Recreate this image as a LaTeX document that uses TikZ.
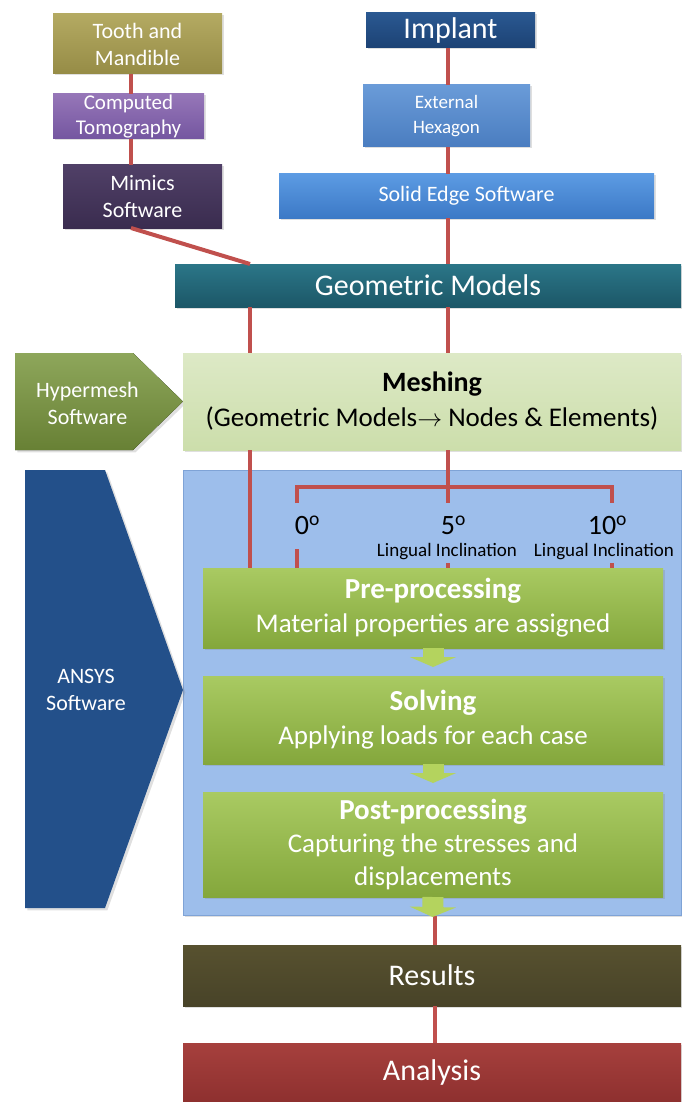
\documentclass[tikz,border=0pt]{standalone}
\usepackage{fontspec}
\setmainfont{Carlito}
\usetikzlibrary{arrows.meta,shadows}

% colours of the boxes
\definecolor{linkred}{HTML}{C0504D}
\definecolor{panelblue}{HTML}{9DBEEB}
\definecolor{paneledge}{HTML}{7FA3D6}
\definecolor{stagetop}{HTML}{A9CA62}
\definecolor{stagebot}{HTML}{84A73C}
\definecolor{chevgreen}{HTML}{B4D35E}
\definecolor{ansysblue}{HTML}{23508A}
\definecolor{hypergreen}{HTML}{7A973E}

\begin{document}
\begin{tikzpicture}[x=1pt,y=-1pt]
                % Define styles for different elements
                \tikzstyle{plain} = [rectangle, inner sep=0pt, outer sep=0pt, text=white, align=center,
                                     font=\fontsize{22}{27}\selectfont]
                \tikzstyle{box} = [plain, drop shadow={opacity=0.25, shadow xshift=1.5pt, shadow yshift=-1.5pt}]
                \tikzstyle{bar} = [box, minimum width=498pt, font=\fontsize{30}{34}\selectfont]
                \tikzstyle{stage} = [box, minimum width=460pt, top color=stagetop, bottom color=stagebot,
                                     font=\fontsize{27}{34}\selectfont]
                \tikzstyle{tag} = [inner sep=0pt, text=black, font=\fontsize{19}{22}\selectfont]
                \tikzstyle{deg} = [inner sep=0pt, text=black, font=\fontsize{28}{30}\selectfont]
                \tikzstyle{link} = [draw=linkred, line width=4pt]
                \tikzstyle{chev} = [draw=chevgreen, line width=21pt, -{Triangle[width=46pt,length=10pt]}]

                \useasboundingbox (0,0) rectangle (681,1102);

                % Line positions
                \coordinate (lcol) at (131,0);
                \coordinate (gl) at (250,0);
                \coordinate (cx) at (448,0);
                \coordinate (mid) at (435,0);

                % Tooth side
                \node[box, minimum width=169pt, minimum height=60pt, top color={rgb,255:red,180;green,170;blue,98}, bottom color={rgb,255:red,150;green,140;blue,70}] (tooth) at (137.5,44) {Tooth and\\Mandible};
                \node[box, minimum width=151pt, minimum height=45pt, top color={rgb,255:red,150;green,118;blue,184}, bottom color={rgb,255:red,116;green,86;blue,160}, font=\fontsize{21}{25}\selectfont] (ct) at (128.5,116.5) {Computed\\Tomography};
                \node[box, minimum width=159pt, minimum height=63pt, top color={rgb,255:red,80;green,64;blue,103}, bottom color={rgb,255:red,58;green,44;blue,79}] (mimics) at (142.5,196.5) {Mimics\\Software};

                % Implant side
                \node[box, minimum width=169pt, minimum height=35pt, top color={rgb,255:red,42;green,88;blue,145}, bottom color={rgb,255:red,28;green,66;blue,116}, font=\fontsize{30}{34}\selectfont] (implant) at (450.5,30.5) {Implant};
                \node[box, minimum width=167pt, minimum height=62pt, top color={rgb,255:red,106;green,155;blue,216}, bottom color={rgb,255:red,74;green,125;blue,192}, font=\fontsize{19}{25}\selectfont] (hex) at (446.5,116) {External\\Hexagon};
                \node[box, minimum width=375pt, minimum height=44pt, top color={rgb,255:red,92;green,155;blue,227}, bottom color={rgb,255:red,60;green,121;blue,198}] (solid) at (466.5,196) {Solid Edge Software};

                % Geometric models and meshing
                \node[box, minimum width=506pt, minimum height=43pt, top color={rgb,255:red,43;green,118;blue,136}, bottom color={rgb,255:red,28;green,87;blue,103}, font=\fontsize{30}{34}\selectfont] (geo) at (428,285.5) {Geometric Models};

                \fill[top color=hypergreen!85!white, bottom color=hypergreen!85!black, drop shadow={opacity=0.25}]
                    (15,353) -- (133,353) -- (183,401.5) -- (133,450) -- (15,450) -- cycle;
                \node[plain] (hyper) at (87.5,403) {Hypermesh\\Software};

                \node[bar, minimum height=97pt, top color={rgb,255:red,221;green,233;blue,198}, bottom color={rgb,255:red,204;green,222;blue,171}, text=black, font=\fontsize{27}{35}\selectfont] (mesh) at (432,401.5)
                    {{\fontsize{28}{35}\selectfont\bfseries Meshing}\\(Geometric Models$\rightarrow$ Nodes \& Elements)};

                % ANSYS panel
                \node[rectangle, minimum width=498pt, minimum height=445pt, fill=panelblue, draw=paneledge, line width=1pt,
                      drop shadow={opacity=0.25, shadow xshift=1.5pt, shadow yshift=-1.5pt}] (panel) at (432,692.5) {};
                \fill[ansysblue, drop shadow={opacity=0.25}]
                    (25,470) -- (105,470) -- (183,690) -- (105,908) -- (25,908) -- cycle;
                \node[plain] (ansys) at (86,690) {ANSYS\\Software};

                \node[stage, minimum height=80pt] (pre) at (433,608)
                    {{\fontsize{29}{34}\selectfont\bfseries Pre-processing}\\Material properties are assigned};
                \node[stage, minimum height=88pt] (solve) at (433,720)
                    {{\fontsize{29}{34}\selectfont\bfseries Solving}\\Applying loads for each case};
                \node[stage, minimum height=105pt, font=\fontsize{27}{33}\selectfont] (post) at (433,844.5)
                    {{\fontsize{29}{33}\selectfont\bfseries Post-processing}\\Capturing the stresses and\\displacements};

                % Inclination cases
                \node[deg] (d0) at (302,525) {0\rlap{\textsuperscript{o}}};
                \node[deg] (d5) at (448,525) {5\rlap{\textsuperscript{o}}};
                \node[deg] (d10) at (602,525) {10\rlap{\textsuperscript{o}}};
                \node[tag] (li5) at (447,552) {Lingual Inclination};
                \node[tag] (li10) at (604,552) {Lingual Inclination};

                \coordinate (fork) at (448,487);
                \coordinate (b0) at (297,503);
                \coordinate (b10) at (612,503);
                \coordinate (s0) at (297,549);
                \coordinate (s5) at (448,563);
                \coordinate (s10) at (612,563);

                % Results
                \node[bar, minimum height=61pt, top color={rgb,255:red,87;green,81;blue,47}, bottom color={rgb,255:red,72;green,67;blue,40}] (results) at (432,975.5) {Results};
                \node[bar, minimum height=59pt, top color={rgb,255:red,166;green,64;blue,61}, bottom color={rgb,255:red,142;green,48;blue,47}] (analysis) at (432,1072.5) {Analysis};

                % Connect the nodes
                \draw[link] (tooth.south -| lcol) -- (ct.north -| lcol);
                \draw[link] (ct.south -| lcol) -- (mimics.north -| lcol);
                \draw[link] (mimics.south -| lcol) -- (geo.north -| gl);
                \draw[link] (implant.south -| cx) -- (hex.north -| cx);
                \draw[link] (hex.south -| cx) -- (solid.north -| cx);
                \draw[link] (solid.south -| cx) -- (geo.north -| cx);
                \draw[link] (geo.south -| gl) -- (mesh.north -| gl);
                \draw[link] (geo.south -| cx) -- (mesh.north -| cx);
                \draw[link] (mesh.south -| gl) -- (pre.north -| gl);
                \draw[link] (mesh.south -| cx) -- (fork);
                \draw[link] (b0) -- (b0 |- fork) -- (b10 |- fork) -- (b10);
                \draw[link] (fork) -- (fork |- b0);
                \draw[link] (s0) -- (s0 |- pre.north);
                \draw[link] (s5) -- (s5 |- pre.north);
                \draw[link] (s10) -- (s10 |- pre.north);
                \draw[link] (panel.south -| mid) -- (results.north -| mid);
                \draw[link] (results.south -| mid) -- (analysis.north -| mid);

                % Flow inside the panel
                \draw[chev, shorten >=9pt] (pre.south) -- (solve.north);
                \draw[chev, shorten >=9pt] (solve.south) -- (post.north);
                \draw[chev, shorten >=28pt] (post.south) -- (results.north);
\end{tikzpicture}
\end{document}
